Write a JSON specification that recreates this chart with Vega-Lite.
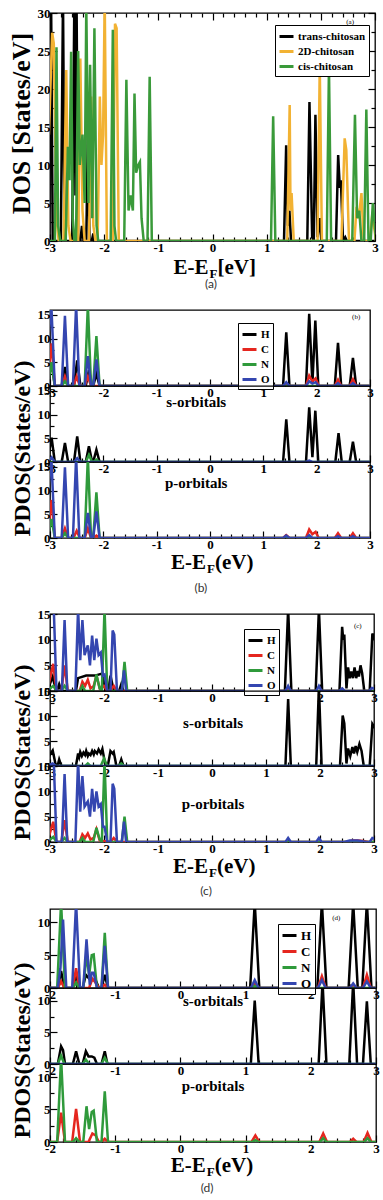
{
"$schema":"https://vega.github.io/schema/vega-lite/v6.json",
"padding":{"left":7,"top":6,"right":0,"bottom":0},
"background":"white",
"config":{
 "view":{"stroke":"#000","strokeWidth":1.3},
 "axis":{"labelFont":"Liberation Serif","labelFontWeight":"bold","labelFontSize":13,"labelColor":"#000","labelPadding":7,"labelFlush":false,"labelOverlap":false,"domain":false,"grid":false,"tickColor":"#000","tickWidth":1.2,"titleFont":"Liberation Serif","titleFontWeight":"bold","titleColor":"#000"},
 "legend":{"labelFont":"Liberation Serif","labelFontWeight":"bold","labelFontSize":11,"labelColor":"#000","symbolType":"stroke","symbolStrokeWidth":3,"symbolSize":196,"strokeColor":"#000","fillColor":"#fff","padding":3,"rowPadding":-2,"labelOffset":3,"cornerRadius":0},
 "text":{"font":"Liberation Serif","fontWeight":"bold","color":"#000"}
},
"datasets":{
"a":[
{"s":"trans-chitosan","x":-3.02,"y":0},{"s":"trans-chitosan","x":-2.98,"y":32},{"s":"trans-chitosan","x":-2.95,"y":0},{"s":"trans-chitosan","x":-2.8,"y":0},{"s":"trans-chitosan","x":-2.76,"y":32},{"s":"trans-chitosan","x":-2.73,"y":0},{"s":"trans-chitosan","x":-2.59,"y":0},{"s":"trans-chitosan","x":-2.55,"y":32},{"s":"trans-chitosan","x":-2.53,"y":6},{"s":"trans-chitosan","x":-2.51,"y":32},{"s":"trans-chitosan","x":-2.48,"y":0},{"s":"trans-chitosan","x":-2.44,"y":0},{"s":"trans-chitosan","x":-2.41,"y":2},{"s":"trans-chitosan","x":-2.38,"y":0},{"s":"trans-chitosan","x":-2.33,"y":0},{"s":"trans-chitosan","x":-2.3,"y":15},{"s":"trans-chitosan","x":-2.27,"y":0},{"s":"trans-chitosan","x":-2.23,"y":0},{"s":"trans-chitosan","x":-2.2,"y":1},{"s":"trans-chitosan","x":-2.17,"y":0},{"s":"trans-chitosan","x":1.32,"y":0},{"s":"trans-chitosan","x":1.36,"y":12.6},{"s":"trans-chitosan","x":1.39,"y":2},{"s":"trans-chitosan","x":1.42,"y":4},{"s":"trans-chitosan","x":1.45,"y":0},{"s":"trans-chitosan","x":1.75,"y":0},{"s":"trans-chitosan","x":1.79,"y":18.3},{"s":"trans-chitosan","x":1.84,"y":0.5},{"s":"trans-chitosan","x":1.87,"y":0},{"s":"trans-chitosan","x":1.9,"y":16.6},{"s":"trans-chitosan","x":1.94,"y":0.5},{"s":"trans-chitosan","x":1.98,"y":3},{"s":"trans-chitosan","x":2.01,"y":0},{"s":"trans-chitosan","x":2.28,"y":0},{"s":"trans-chitosan","x":2.32,"y":11.3},{"s":"trans-chitosan","x":2.35,"y":7},{"s":"trans-chitosan","x":2.37,"y":8},{"s":"trans-chitosan","x":2.41,"y":0},{"s":"trans-chitosan","x":2.45,"y":0.5},{"s":"trans-chitosan","x":2.48,"y":0},{"s":"trans-chitosan","x":3.02,"y":0},
{"s":"2D-chitosan","x":-3.02,"y":14},{"s":"2D-chitosan","x":-2.96,"y":27.4},{"s":"2D-chitosan","x":-2.93,"y":26},{"s":"2D-chitosan","x":-2.88,"y":3},{"s":"2D-chitosan","x":-2.84,"y":0},{"s":"2D-chitosan","x":-2.75,"y":0},{"s":"2D-chitosan","x":-2.7,"y":22.5},{"s":"2D-chitosan","x":-2.66,"y":2},{"s":"2D-chitosan","x":-2.62,"y":0},{"s":"2D-chitosan","x":-2.48,"y":0},{"s":"2D-chitosan","x":-2.44,"y":24},{"s":"2D-chitosan","x":-2.4,"y":4},{"s":"2D-chitosan","x":-2.36,"y":0},{"s":"2D-chitosan","x":-2.28,"y":0},{"s":"2D-chitosan","x":-2.24,"y":19},{"s":"2D-chitosan","x":-2.2,"y":2},{"s":"2D-chitosan","x":-2.16,"y":0},{"s":"2D-chitosan","x":-2.12,"y":0},{"s":"2D-chitosan","x":-2.08,"y":19},{"s":"2D-chitosan","x":-2.05,"y":10},{"s":"2D-chitosan","x":-2.02,"y":14},{"s":"2D-chitosan","x":-1.99,"y":32},{"s":"2D-chitosan","x":-1.95,"y":0},{"s":"2D-chitosan","x":-1.84,"y":0},{"s":"2D-chitosan","x":-1.8,"y":28.6},{"s":"2D-chitosan","x":-1.77,"y":28},{"s":"2D-chitosan","x":-1.73,"y":0},{"s":"2D-chitosan","x":1.38,"y":0},{"s":"2D-chitosan","x":1.425,"y":17.9},{"s":"2D-chitosan","x":1.44,"y":4},{"s":"2D-chitosan","x":1.46,"y":6.3},{"s":"2D-chitosan","x":1.5,"y":0},{"s":"2D-chitosan","x":1.94,"y":0},{"s":"2D-chitosan","x":1.98,"y":23.2},{"s":"2D-chitosan","x":2.02,"y":0},{"s":"2D-chitosan","x":2.38,"y":0},{"s":"2D-chitosan","x":2.44,"y":13.5},{"s":"2D-chitosan","x":2.47,"y":12},{"s":"2D-chitosan","x":2.52,"y":0},{"s":"2D-chitosan","x":2.62,"y":0},{"s":"2D-chitosan","x":2.66,"y":4.5},{"s":"2D-chitosan","x":2.7,"y":3},{"s":"2D-chitosan","x":2.75,"y":6.3},{"s":"2D-chitosan","x":2.79,"y":0},{"s":"2D-chitosan","x":2.9,"y":0},{"s":"2D-chitosan","x":2.95,"y":3.5},{"s":"2D-chitosan","x":3.02,"y":0},
{"s":"cis-chitosan","x":-3.02,"y":0},{"s":"cis-chitosan","x":-2.91,"y":0},{"s":"cis-chitosan","x":-2.88,"y":25.5},{"s":"cis-chitosan","x":-2.85,"y":2},{"s":"cis-chitosan","x":-2.81,"y":0},{"s":"cis-chitosan","x":-2.71,"y":0},{"s":"cis-chitosan","x":-2.67,"y":12.4},{"s":"cis-chitosan","x":-2.64,"y":8},{"s":"cis-chitosan","x":-2.61,"y":24.9},{"s":"cis-chitosan","x":-2.58,"y":3},{"s":"cis-chitosan","x":-2.55,"y":0},{"s":"cis-chitosan","x":-2.52,"y":0},{"s":"cis-chitosan","x":-2.48,"y":25},{"s":"cis-chitosan","x":-2.45,"y":10},{"s":"cis-chitosan","x":-2.4,"y":14},{"s":"cis-chitosan","x":-2.36,"y":5},{"s":"cis-chitosan","x":-2.33,"y":31},{"s":"cis-chitosan","x":-2.29,"y":5},{"s":"cis-chitosan","x":-2.26,"y":23.2},{"s":"cis-chitosan","x":-2.22,"y":3},{"s":"cis-chitosan","x":-2.18,"y":28},{"s":"cis-chitosan","x":-2.14,"y":2},{"s":"cis-chitosan","x":-2.11,"y":0},{"s":"cis-chitosan","x":-1.88,"y":0},{"s":"cis-chitosan","x":-1.84,"y":27.8},{"s":"cis-chitosan","x":-1.81,"y":2},{"s":"cis-chitosan","x":-1.78,"y":0},{"s":"cis-chitosan","x":-1.63,"y":0},{"s":"cis-chitosan","x":-1.59,"y":21.2},{"s":"cis-chitosan","x":-1.55,"y":4},{"s":"cis-chitosan","x":-1.51,"y":6},{"s":"cis-chitosan","x":-1.47,"y":4},{"s":"cis-chitosan","x":-1.44,"y":19.4},{"s":"cis-chitosan","x":-1.41,"y":9},{"s":"cis-chitosan","x":-1.37,"y":10},{"s":"cis-chitosan","x":-1.34,"y":10.4},{"s":"cis-chitosan","x":-1.31,"y":3},{"s":"cis-chitosan","x":-1.27,"y":0},{"s":"cis-chitosan","x":-1.2,"y":0},{"s":"cis-chitosan","x":-1.16,"y":21.6},{"s":"cis-chitosan","x":-1.12,"y":0},{"s":"cis-chitosan","x":1.08,"y":0},{"s":"cis-chitosan","x":1.12,"y":16.4},{"s":"cis-chitosan","x":1.16,"y":0},{"s":"cis-chitosan","x":2.11,"y":0},{"s":"cis-chitosan","x":2.15,"y":22.9},{"s":"cis-chitosan","x":2.19,"y":0},{"s":"cis-chitosan","x":2.58,"y":0},{"s":"cis-chitosan","x":2.63,"y":16.6},{"s":"cis-chitosan","x":2.67,"y":3},{"s":"cis-chitosan","x":2.71,"y":4},{"s":"cis-chitosan","x":2.75,"y":0},{"s":"cis-chitosan","x":2.8,"y":0},{"s":"cis-chitosan","x":2.84,"y":17.3},{"s":"cis-chitosan","x":2.88,"y":0},{"s":"cis-chitosan","x":2.92,"y":0},{"s":"cis-chitosan","x":2.96,"y":5},{"s":"cis-chitosan","x":3.02,"y":0}
],
"b1":[
{"s":"H","x":-3.05,"y":0},{"s":"H","x":-2.97,"y":5},{"s":"H","x":-2.91,"y":0},{"s":"H","x":-2.78,"y":0},{"s":"H","x":-2.72,"y":4},{"s":"H","x":-2.66,"y":0},{"s":"H","x":-2.55,"y":0},{"s":"H","x":-2.49,"y":5.4},{"s":"H","x":-2.43,"y":0},{"s":"H","x":-2.33,"y":0},{"s":"H","x":-2.27,"y":3.3},{"s":"H","x":-2.21,"y":0},{"s":"H","x":-2.19,"y":0},{"s":"H","x":-2.13,"y":2.6},{"s":"H","x":-2.07,"y":0},{"s":"H","x":1.37,"y":0},{"s":"H","x":1.43,"y":11.3},{"s":"H","x":1.49,"y":0},{"s":"H","x":1.8,"y":0},{"s":"H","x":1.86,"y":15.2},{"s":"H","x":1.92,"y":0.5},{"s":"H","x":1.975,"y":13.8},{"s":"H","x":2.03,"y":0},{"s":"H","x":2.34,"y":0},{"s":"H","x":2.4,"y":9.1},{"s":"H","x":2.46,"y":0},{"s":"H","x":2.62,"y":0},{"s":"H","x":2.68,"y":5.9},{"s":"H","x":2.74,"y":0},{"s":"H","x":3.05,"y":0},
{"s":"C","x":-3.05,"y":0},{"s":"C","x":-2.97,"y":9},{"s":"C","x":-2.91,"y":0},{"s":"C","x":-2.78,"y":0},{"s":"C","x":-2.72,"y":2},{"s":"C","x":-2.66,"y":0},{"s":"C","x":-2.56,"y":0},{"s":"C","x":-2.5,"y":2},{"s":"C","x":-2.44,"y":0},{"s":"C","x":-2.35,"y":0},{"s":"C","x":-2.29,"y":2},{"s":"C","x":-2.23,"y":0},{"s":"C","x":1.37,"y":0},{"s":"C","x":1.43,"y":0.5},{"s":"C","x":1.49,"y":0},{"s":"C","x":1.8,"y":0},{"s":"C","x":1.86,"y":2.2},{"s":"C","x":1.92,"y":1},{"s":"C","x":1.98,"y":1.6},{"s":"C","x":2.04,"y":0},{"s":"C","x":2.34,"y":0},{"s":"C","x":2.4,"y":1.3},{"s":"C","x":2.46,"y":0},{"s":"C","x":2.62,"y":0},{"s":"C","x":2.68,"y":1.4},{"s":"C","x":2.74,"y":0},{"s":"C","x":3.05,"y":0},
{"s":"N","x":-3.05,"y":0},{"s":"N","x":-2.97,"y":5},{"s":"N","x":-2.91,"y":0},{"s":"N","x":-2.78,"y":0},{"s":"N","x":-2.72,"y":1},{"s":"N","x":-2.66,"y":0},{"s":"N","x":-2.35,"y":0},{"s":"N","x":-2.29,"y":17},{"s":"N","x":-2.23,"y":0},{"s":"N","x":-2.19,"y":0},{"s":"N","x":-2.13,"y":10.5},{"s":"N","x":-2.07,"y":0},{"s":"N","x":3.05,"y":0},
{"s":"O","x":-3.05,"y":8},{"s":"O","x":-2.975,"y":17},{"s":"O","x":-2.91,"y":0},{"s":"O","x":-2.78,"y":0},{"s":"O","x":-2.72,"y":14.8},{"s":"O","x":-2.66,"y":0},{"s":"O","x":-2.57,"y":0},{"s":"O","x":-2.51,"y":17},{"s":"O","x":-2.45,"y":0},{"s":"O","x":-2.35,"y":0},{"s":"O","x":-2.29,"y":6.3},{"s":"O","x":-2.23,"y":0},{"s":"O","x":-2.19,"y":0},{"s":"O","x":-2.13,"y":5.6},{"s":"O","x":-2.07,"y":0},{"s":"O","x":1.37,"y":0},{"s":"O","x":1.43,"y":0.8},{"s":"O","x":1.49,"y":0},{"s":"O","x":1.8,"y":0},{"s":"O","x":1.86,"y":1},{"s":"O","x":1.92,"y":0.5},{"s":"O","x":1.98,"y":0.8},{"s":"O","x":2.04,"y":0},{"s":"O","x":2.34,"y":0},{"s":"O","x":2.4,"y":0.6},{"s":"O","x":2.46,"y":0},{"s":"O","x":2.62,"y":0},{"s":"O","x":2.68,"y":0.6},{"s":"O","x":2.74,"y":0},{"s":"O","x":3.05,"y":0}
],
"b2":[
{"s":"H","x":-3.05,"y":0},{"s":"H","x":-2.97,"y":5.1},{"s":"H","x":-2.91,"y":0},{"s":"H","x":-2.78,"y":0},{"s":"H","x":-2.72,"y":4},{"s":"H","x":-2.66,"y":0},{"s":"H","x":-2.55,"y":0},{"s":"H","x":-2.49,"y":5.4},{"s":"H","x":-2.43,"y":0},{"s":"H","x":-2.33,"y":0},{"s":"H","x":-2.27,"y":3.3},{"s":"H","x":-2.21,"y":0},{"s":"H","x":-2.19,"y":0},{"s":"H","x":-2.13,"y":2.6},{"s":"H","x":-2.07,"y":0},{"s":"H","x":1.37,"y":0},{"s":"H","x":1.43,"y":9},{"s":"H","x":1.49,"y":0},{"s":"H","x":1.8,"y":0},{"s":"H","x":1.86,"y":11.5},{"s":"H","x":1.92,"y":1},{"s":"H","x":1.975,"y":10.8},{"s":"H","x":2.03,"y":0},{"s":"H","x":2.35,"y":0},{"s":"H","x":2.41,"y":6.1},{"s":"H","x":2.47,"y":0},{"s":"H","x":2.62,"y":0},{"s":"H","x":2.68,"y":4.3},{"s":"H","x":2.74,"y":0},{"s":"H","x":3.05,"y":0},
{"s":"N","x":-3.05,"y":0},{"s":"N","x":-2.33,"y":0},{"s":"N","x":-2.27,"y":1.5},{"s":"N","x":-2.21,"y":0},{"s":"N","x":-2.19,"y":0},{"s":"N","x":-2.13,"y":0.5},{"s":"N","x":-2.07,"y":0},{"s":"N","x":3.05,"y":0},
{"s":"O","x":-3.05,"y":0},{"s":"O","x":-2.97,"y":1},{"s":"O","x":-2.91,"y":0},{"s":"O","x":-2.55,"y":0},{"s":"O","x":-2.49,"y":0.8},{"s":"O","x":-2.43,"y":0},{"s":"O","x":1.8,"y":0},{"s":"O","x":1.86,"y":0.3},{"s":"O","x":1.92,"y":0},{"s":"O","x":3.05,"y":0}
],
"b3":[
{"s":"C","x":-3.05,"y":0},{"s":"C","x":-2.97,"y":8},{"s":"C","x":-2.91,"y":0},{"s":"C","x":-2.78,"y":0},{"s":"C","x":-2.72,"y":2},{"s":"C","x":-2.66,"y":0},{"s":"C","x":-2.56,"y":0},{"s":"C","x":-2.5,"y":1.5},{"s":"C","x":-2.44,"y":0},{"s":"C","x":-2.35,"y":0},{"s":"C","x":-2.29,"y":2},{"s":"C","x":-2.23,"y":0},{"s":"C","x":-2.19,"y":0},{"s":"C","x":-2.13,"y":0.5},{"s":"C","x":-2.07,"y":0},{"s":"C","x":1.37,"y":0},{"s":"C","x":1.43,"y":0.6},{"s":"C","x":1.49,"y":0},{"s":"C","x":1.8,"y":0},{"s":"C","x":1.86,"y":1.8},{"s":"C","x":1.92,"y":0.8},{"s":"C","x":1.98,"y":1.3},{"s":"C","x":2.04,"y":0},{"s":"C","x":2.34,"y":0},{"s":"C","x":2.4,"y":1},{"s":"C","x":2.46,"y":0},{"s":"C","x":2.62,"y":0},{"s":"C","x":2.68,"y":1},{"s":"C","x":2.74,"y":0},{"s":"C","x":3.05,"y":0},
{"s":"N","x":-3.05,"y":0},{"s":"N","x":-2.97,"y":4},{"s":"N","x":-2.91,"y":0},{"s":"N","x":-2.78,"y":0},{"s":"N","x":-2.72,"y":1},{"s":"N","x":-2.66,"y":0},{"s":"N","x":-2.35,"y":0},{"s":"N","x":-2.29,"y":17},{"s":"N","x":-2.23,"y":0},{"s":"N","x":-2.19,"y":0},{"s":"N","x":-2.13,"y":9.6},{"s":"N","x":-2.07,"y":0},{"s":"N","x":3.05,"y":0},
{"s":"O","x":-3.05,"y":8},{"s":"O","x":-2.975,"y":17},{"s":"O","x":-2.91,"y":0},{"s":"O","x":-2.78,"y":0},{"s":"O","x":-2.72,"y":14.9},{"s":"O","x":-2.66,"y":0},{"s":"O","x":-2.57,"y":0},{"s":"O","x":-2.51,"y":17},{"s":"O","x":-2.45,"y":0},{"s":"O","x":-2.35,"y":0},{"s":"O","x":-2.29,"y":5.3},{"s":"O","x":-2.23,"y":0},{"s":"O","x":-2.19,"y":0},{"s":"O","x":-2.13,"y":5.6},{"s":"O","x":-2.07,"y":0},{"s":"O","x":1.37,"y":0},{"s":"O","x":1.43,"y":0.5},{"s":"O","x":1.49,"y":0},{"s":"O","x":1.8,"y":0},{"s":"O","x":1.86,"y":0.6},{"s":"O","x":1.92,"y":0},{"s":"O","x":2.34,"y":0},{"s":"O","x":2.4,"y":0.4},{"s":"O","x":2.46,"y":0},{"s":"O","x":2.62,"y":0},{"s":"O","x":2.68,"y":0.4},{"s":"O","x":2.74,"y":0},{"s":"O","x":3.05,"y":0}
],
"c1":[
{"s":"H","x":-3.05,"y":0},{"s":"H","x":-2.95,"y":2.8},{"s":"H","x":-2.89,"y":0},{"s":"H","x":-2.87,"y":0},{"s":"H","x":-2.83,"y":1.3},{"s":"H","x":-2.79,"y":0},{"s":"H","x":-2.52,"y":0},{"s":"H","x":-2.48,"y":2.5},{"s":"H","x":-2.33,"y":3},{"s":"H","x":-2.17,"y":3},{"s":"H","x":-2.03,"y":3.4},{"s":"H","x":-1.97,"y":0},{"s":"H","x":-1.92,"y":0},{"s":"H","x":-1.88,"y":3},{"s":"H","x":-1.82,"y":0},{"s":"H","x":-1.72,"y":0},{"s":"H","x":-1.68,"y":1.3},{"s":"H","x":-1.64,"y":0},{"s":"H","x":1.35,"y":0},{"s":"H","x":1.41,"y":16},{"s":"H","x":1.47,"y":0},{"s":"H","x":1.92,"y":0},{"s":"H","x":1.98,"y":16},{"s":"H","x":2.04,"y":0},{"s":"H","x":2.36,"y":0},{"s":"H","x":2.41,"y":12.5},{"s":"H","x":2.43,"y":10},{"s":"H","x":2.45,"y":11},{"s":"H","x":2.49,"y":0.5},{"s":"H","x":2.52,"y":4.6},{"s":"H","x":2.55,"y":2.5},{"s":"H","x":2.58,"y":3.8},{"s":"H","x":2.61,"y":2.5},{"s":"H","x":2.64,"y":4.6},{"s":"H","x":2.67,"y":2.5},{"s":"H","x":2.7,"y":3.9},{"s":"H","x":2.72,"y":2.8},{"s":"H","x":2.75,"y":5},{"s":"H","x":2.78,"y":3.5},{"s":"H","x":2.82,"y":0},{"s":"H","x":2.92,"y":0},{"s":"H","x":2.97,"y":11.2},{"s":"H","x":3.05,"y":9},
{"s":"C","x":-3.05,"y":0},{"s":"C","x":-2.94,"y":5.3},{"s":"C","x":-2.88,"y":0},{"s":"C","x":-2.79,"y":0},{"s":"C","x":-2.73,"y":5},{"s":"C","x":-2.67,"y":0},{"s":"C","x":-2.45,"y":0},{"s":"C","x":-2.4,"y":1.8},{"s":"C","x":-2.35,"y":1},{"s":"C","x":-2.3,"y":2.2},{"s":"C","x":-2.25,"y":0.5},{"s":"C","x":-2.19,"y":1},{"s":"C","x":-2.14,"y":3},{"s":"C","x":-2.08,"y":0.5},{"s":"C","x":-2,"y":1},{"s":"C","x":-1.94,"y":0},{"s":"C","x":-1.88,"y":0},{"s":"C","x":-1.82,"y":1},{"s":"C","x":-1.76,"y":0},{"s":"C","x":1.36,"y":0},{"s":"C","x":1.41,"y":0.3},{"s":"C","x":1.46,"y":0},{"s":"C","x":3.05,"y":0},
{"s":"N","x":-3.05,"y":0},{"s":"N","x":-2.94,"y":1},{"s":"N","x":-2.88,"y":0},{"s":"N","x":-2.79,"y":0},{"s":"N","x":-2.73,"y":1},{"s":"N","x":-2.67,"y":0},{"s":"N","x":-2.45,"y":0},{"s":"N","x":-2.4,"y":1},{"s":"N","x":-2.35,"y":0},{"s":"N","x":-2.2,"y":0},{"s":"N","x":-2.14,"y":3.2},{"s":"N","x":-2.08,"y":0.5},{"s":"N","x":-2.04,"y":0},{"s":"N","x":-1.99,"y":16},{"s":"N","x":-1.94,"y":0},{"s":"N","x":-1.67,"y":0},{"s":"N","x":-1.62,"y":5.7},{"s":"N","x":-1.57,"y":0},{"s":"N","x":3.05,"y":0},
{"s":"O","x":-3.05,"y":16},{"s":"O","x":-2.93,"y":16},{"s":"O","x":-2.88,"y":0},{"s":"O","x":-2.78,"y":0},{"s":"O","x":-2.73,"y":13.8},{"s":"O","x":-2.68,"y":0},{"s":"O","x":-2.53,"y":0},{"s":"O","x":-2.48,"y":16},{"s":"O","x":-2.44,"y":6},{"s":"O","x":-2.4,"y":13.8},{"s":"O","x":-2.36,"y":7},{"s":"O","x":-2.33,"y":8},{"s":"O","x":-2.3,"y":8.9},{"s":"O","x":-2.26,"y":5},{"s":"O","x":-2.22,"y":10.8},{"s":"O","x":-2.18,"y":6},{"s":"O","x":-2.14,"y":10.2},{"s":"O","x":-2.1,"y":7},{"s":"O","x":-2.06,"y":7.5},{"s":"O","x":-2.02,"y":3},{"s":"O","x":-1.99,"y":3.2},{"s":"O","x":-1.94,"y":0},{"s":"O","x":-1.88,"y":0},{"s":"O","x":-1.84,"y":11.8},{"s":"O","x":-1.81,"y":11},{"s":"O","x":-1.76,"y":0},{"s":"O","x":-1.67,"y":0},{"s":"O","x":-1.63,"y":4},{"s":"O","x":-1.59,"y":0},{"s":"O","x":1.36,"y":0},{"s":"O","x":1.41,"y":1},{"s":"O","x":1.46,"y":0},{"s":"O","x":1.93,"y":0},{"s":"O","x":1.98,"y":1},{"s":"O","x":2.03,"y":0},{"s":"O","x":2.36,"y":0},{"s":"O","x":2.41,"y":0.5},{"s":"O","x":2.46,"y":0},{"s":"O","x":2.91,"y":0},{"s":"O","x":2.96,"y":0.6},{"s":"O","x":3.05,"y":0.3}
],
"c2":[
{"s":"H","x":-3.05,"y":1.5},{"s":"H","x":-2.95,"y":3.1},{"s":"H","x":-2.9,"y":0.5},{"s":"H","x":-2.86,"y":0},{"s":"H","x":-2.83,"y":1.3},{"s":"H","x":-2.79,"y":0},{"s":"H","x":-2.52,"y":0},{"s":"H","x":-2.48,"y":2.5},{"s":"H","x":-2.46,"y":1.8},{"s":"H","x":-2.44,"y":2.8},{"s":"H","x":-2.41,"y":2},{"s":"H","x":-2.38,"y":2.7},{"s":"H","x":-2.35,"y":2.2},{"s":"H","x":-2.33,"y":3},{"s":"H","x":-2.3,"y":2},{"s":"H","x":-2.28,"y":2.5},{"s":"H","x":-2.25,"y":2.2},{"s":"H","x":-2.22,"y":3},{"s":"H","x":-2.19,"y":2.3},{"s":"H","x":-2.17,"y":3},{"s":"H","x":-2.13,"y":2.5},{"s":"H","x":-2.1,"y":3.3},{"s":"H","x":-2.06,"y":2.5},{"s":"H","x":-2.03,"y":3.4},{"s":"H","x":-1.98,"y":0.5},{"s":"H","x":-1.93,"y":0},{"s":"H","x":-1.88,"y":3},{"s":"H","x":-1.84,"y":2.5},{"s":"H","x":-1.82,"y":2.8},{"s":"H","x":-1.77,"y":0},{"s":"H","x":-1.72,"y":0},{"s":"H","x":-1.68,"y":1.3},{"s":"H","x":-1.64,"y":0},{"s":"H","x":1.36,"y":0},{"s":"H","x":1.41,"y":13.4},{"s":"H","x":1.46,"y":0},{"s":"H","x":1.93,"y":0},{"s":"H","x":1.98,"y":16},{"s":"H","x":2.03,"y":0},{"s":"H","x":2.37,"y":0},{"s":"H","x":2.42,"y":10.1},{"s":"H","x":2.45,"y":8.5},{"s":"H","x":2.49,"y":0.5},{"s":"H","x":2.52,"y":3.5},{"s":"H","x":2.56,"y":2},{"s":"H","x":2.6,"y":3.8},{"s":"H","x":2.63,"y":2.5},{"s":"H","x":2.66,"y":4},{"s":"H","x":2.69,"y":2.8},{"s":"H","x":2.73,"y":4.4},{"s":"H","x":2.77,"y":3},{"s":"H","x":2.81,"y":0},{"s":"H","x":2.92,"y":0},{"s":"H","x":2.97,"y":8.4},{"s":"H","x":3.05,"y":7},
{"s":"N","x":-3.05,"y":0},{"s":"N","x":-2.35,"y":0},{"s":"N","x":-2.3,"y":0.5},{"s":"N","x":-2.25,"y":0},{"s":"N","x":-2.06,"y":0},{"s":"N","x":-2,"y":1.5},{"s":"N","x":-1.94,"y":0},{"s":"N","x":-1.73,"y":0},{"s":"N","x":-1.68,"y":0.5},{"s":"N","x":-1.63,"y":0},{"s":"N","x":3.05,"y":0},
{"s":"O","x":-3.05,"y":0},{"s":"O","x":-2.95,"y":0.5},{"s":"O","x":-2.89,"y":0},{"s":"O","x":3.05,"y":0}
],
"c3":[
{"s":"C","x":-3.05,"y":0},{"s":"C","x":-2.94,"y":4},{"s":"C","x":-2.88,"y":0},{"s":"C","x":-2.79,"y":0},{"s":"C","x":-2.73,"y":4.3},{"s":"C","x":-2.67,"y":0},{"s":"C","x":-2.45,"y":0},{"s":"C","x":-2.4,"y":1.5},{"s":"C","x":-2.35,"y":0.8},{"s":"C","x":-2.3,"y":1.7},{"s":"C","x":-2.25,"y":0.5},{"s":"C","x":-2.19,"y":0.8},{"s":"C","x":-2.14,"y":2.5},{"s":"C","x":-2.08,"y":0.3},{"s":"C","x":-1.88,"y":0},{"s":"C","x":-1.82,"y":0.8},{"s":"C","x":-1.76,"y":0},{"s":"C","x":2.5,"y":0},{"s":"C","x":2.6,"y":0.3},{"s":"C","x":2.7,"y":0.3},{"s":"C","x":2.8,"y":0.2},{"s":"C","x":2.9,"y":0},{"s":"C","x":3.05,"y":0},
{"s":"N","x":-3.05,"y":0},{"s":"N","x":-2.94,"y":1},{"s":"N","x":-2.88,"y":0},{"s":"N","x":-2.79,"y":0},{"s":"N","x":-2.73,"y":0.8},{"s":"N","x":-2.67,"y":0},{"s":"N","x":-2.45,"y":0},{"s":"N","x":-2.4,"y":0.8},{"s":"N","x":-2.35,"y":0},{"s":"N","x":-2.2,"y":0},{"s":"N","x":-2.14,"y":2.8},{"s":"N","x":-2.08,"y":0.5},{"s":"N","x":-2.04,"y":0},{"s":"N","x":-1.99,"y":16},{"s":"N","x":-1.94,"y":0},{"s":"N","x":-1.67,"y":0},{"s":"N","x":-1.62,"y":5},{"s":"N","x":-1.57,"y":0},{"s":"N","x":3.05,"y":0},
{"s":"O","x":-3.05,"y":16},{"s":"O","x":-2.93,"y":16},{"s":"O","x":-2.88,"y":0},{"s":"O","x":-2.78,"y":0},{"s":"O","x":-2.73,"y":13.4},{"s":"O","x":-2.68,"y":0},{"s":"O","x":-2.53,"y":0},{"s":"O","x":-2.48,"y":16},{"s":"O","x":-2.44,"y":6},{"s":"O","x":-2.4,"y":13},{"s":"O","x":-2.36,"y":7},{"s":"O","x":-2.33,"y":7.5},{"s":"O","x":-2.3,"y":8},{"s":"O","x":-2.26,"y":5},{"s":"O","x":-2.22,"y":10.5},{"s":"O","x":-2.18,"y":6},{"s":"O","x":-2.14,"y":10},{"s":"O","x":-2.1,"y":7},{"s":"O","x":-2.06,"y":7.5},{"s":"O","x":-2.02,"y":3},{"s":"O","x":-1.99,"y":3},{"s":"O","x":-1.94,"y":0},{"s":"O","x":-1.88,"y":0},{"s":"O","x":-1.84,"y":11.5},{"s":"O","x":-1.81,"y":10.5},{"s":"O","x":-1.76,"y":0},{"s":"O","x":-1.67,"y":0},{"s":"O","x":-1.63,"y":4},{"s":"O","x":-1.59,"y":0},{"s":"O","x":1.36,"y":0},{"s":"O","x":1.41,"y":0.8},{"s":"O","x":1.46,"y":0},{"s":"O","x":1.93,"y":0},{"s":"O","x":1.98,"y":0.8},{"s":"O","x":2.03,"y":0},{"s":"O","x":2.45,"y":0},{"s":"O","x":2.55,"y":0.3},{"s":"O","x":2.7,"y":0.3},{"s":"O","x":2.85,"y":0},{"s":"O","x":2.92,"y":0},{"s":"O","x":2.97,"y":0.8},{"s":"O","x":3.05,"y":0.5}
],
"d1":[
{"s":"H","x":-2.05,"y":0},{"s":"H","x":-1.88,"y":0},{"s":"H","x":-1.83,"y":2.6},{"s":"H","x":-1.78,"y":0},{"s":"H","x":-1.65,"y":0},{"s":"H","x":-1.6,"y":2},{"s":"H","x":-1.55,"y":0},{"s":"H","x":-1.5,"y":0},{"s":"H","x":-1.45,"y":2},{"s":"H","x":-1.38,"y":1.2},{"s":"H","x":-1.3,"y":1.2},{"s":"H","x":-1.25,"y":0},{"s":"H","x":-1.21,"y":0},{"s":"H","x":-1.16,"y":2},{"s":"H","x":-1.11,"y":0},{"s":"H","x":1.07,"y":0},{"s":"H","x":1.14,"y":13},{"s":"H","x":1.21,"y":0},{"s":"H","x":2.1,"y":0},{"s":"H","x":2.17,"y":13},{"s":"H","x":2.24,"y":0},{"s":"H","x":2.58,"y":0},{"s":"H","x":2.65,"y":13},{"s":"H","x":2.72,"y":0},{"s":"H","x":2.79,"y":0},{"s":"H","x":2.86,"y":13},{"s":"H","x":2.93,"y":0},{"s":"H","x":3.05,"y":0},
{"s":"C","x":-2.05,"y":0},{"s":"C","x":-1.88,"y":0},{"s":"C","x":-1.83,"y":1},{"s":"C","x":-1.78,"y":0},{"s":"C","x":-1.65,"y":0},{"s":"C","x":-1.6,"y":3},{"s":"C","x":-1.55,"y":0},{"s":"C","x":-1.4,"y":0},{"s":"C","x":-1.35,"y":1.4},{"s":"C","x":-1.3,"y":0.8},{"s":"C","x":-1.25,"y":0},{"s":"C","x":-1.21,"y":0},{"s":"C","x":-1.16,"y":0.5},{"s":"C","x":-1.11,"y":0},{"s":"C","x":1.08,"y":0},{"s":"C","x":1.14,"y":0.8},{"s":"C","x":1.2,"y":0},{"s":"C","x":2.11,"y":0},{"s":"C","x":2.17,"y":1.8},{"s":"C","x":2.23,"y":0},{"s":"C","x":2.6,"y":0},{"s":"C","x":2.65,"y":0.5},{"s":"C","x":2.7,"y":0},{"s":"C","x":2.8,"y":0},{"s":"C","x":2.86,"y":2},{"s":"C","x":2.92,"y":0},{"s":"C","x":3.05,"y":0},
{"s":"N","x":-2.05,"y":0},{"s":"N","x":-1.89,"y":0},{"s":"N","x":-1.83,"y":13},{"s":"N","x":-1.77,"y":0},{"s":"N","x":-1.65,"y":0},{"s":"N","x":-1.6,"y":0.8},{"s":"N","x":-1.55,"y":0},{"s":"N","x":-1.49,"y":0},{"s":"N","x":-1.44,"y":5},{"s":"N","x":-1.4,"y":2},{"s":"N","x":-1.36,"y":5},{"s":"N","x":-1.33,"y":5.1},{"s":"N","x":-1.28,"y":0},{"s":"N","x":-1.21,"y":0},{"s":"N","x":-1.16,"y":8.4},{"s":"N","x":-1.11,"y":0},{"s":"N","x":1.09,"y":0},{"s":"N","x":1.14,"y":0.3},{"s":"N","x":1.19,"y":0},{"s":"N","x":3.05,"y":0},
{"s":"O","x":-2.05,"y":0},{"s":"O","x":-1.88,"y":0},{"s":"O","x":-1.84,"y":3},{"s":"O","x":-1.8,"y":10.4},{"s":"O","x":-1.75,"y":0},{"s":"O","x":-1.66,"y":0},{"s":"O","x":-1.6,"y":13},{"s":"O","x":-1.54,"y":0},{"s":"O","x":-1.49,"y":0},{"s":"O","x":-1.44,"y":7.4},{"s":"O","x":-1.39,"y":0.5},{"s":"O","x":-1.36,"y":2.3},{"s":"O","x":-1.33,"y":2.3},{"s":"O","x":-1.28,"y":0},{"s":"O","x":-1.21,"y":0},{"s":"O","x":-1.16,"y":6.4},{"s":"O","x":-1.11,"y":0},{"s":"O","x":1.08,"y":0},{"s":"O","x":1.14,"y":1.2},{"s":"O","x":1.2,"y":0},{"s":"O","x":2.11,"y":0},{"s":"O","x":2.17,"y":1.2},{"s":"O","x":2.23,"y":0},{"s":"O","x":2.6,"y":0},{"s":"O","x":2.65,"y":0.7},{"s":"O","x":2.7,"y":0},{"s":"O","x":2.8,"y":0},{"s":"O","x":2.86,"y":1},{"s":"O","x":2.92,"y":0},{"s":"O","x":3.05,"y":0}
],
"d2":[
{"s":"H","x":-2.05,"y":0},{"s":"H","x":-1.88,"y":0},{"s":"H","x":-1.83,"y":2.8},{"s":"H","x":-1.8,"y":2.2},{"s":"H","x":-1.77,"y":0},{"s":"H","x":-1.65,"y":0},{"s":"H","x":-1.6,"y":2},{"s":"H","x":-1.55,"y":0},{"s":"H","x":-1.5,"y":0},{"s":"H","x":-1.45,"y":2},{"s":"H","x":-1.41,"y":1.2},{"s":"H","x":-1.36,"y":1.2},{"s":"H","x":-1.32,"y":1},{"s":"H","x":-1.28,"y":0},{"s":"H","x":-1.21,"y":0},{"s":"H","x":-1.16,"y":2},{"s":"H","x":-1.12,"y":0},{"s":"H","x":1.08,"y":0},{"s":"H","x":1.14,"y":10},{"s":"H","x":1.2,"y":0},{"s":"H","x":2.12,"y":0},{"s":"H","x":2.18,"y":13},{"s":"H","x":2.24,"y":0},{"s":"H","x":2.59,"y":0},{"s":"H","x":2.65,"y":13},{"s":"H","x":2.71,"y":0},{"s":"H","x":2.8,"y":0},{"s":"H","x":2.86,"y":9.9},{"s":"H","x":2.92,"y":0},{"s":"H","x":3.05,"y":0},
{"s":"N","x":-2.05,"y":0},{"s":"N","x":-1.88,"y":0},{"s":"N","x":-1.83,"y":1.3},{"s":"N","x":-1.78,"y":0},{"s":"N","x":-1.5,"y":0},{"s":"N","x":-1.45,"y":0.7},{"s":"N","x":-1.4,"y":0},{"s":"N","x":-1.21,"y":0},{"s":"N","x":-1.16,"y":1},{"s":"N","x":-1.11,"y":0},{"s":"N","x":3.05,"y":0},
{"s":"O","x":-2.05,"y":0},{"s":"O","x":3.05,"y":0}
],
"d3":[
{"s":"C","x":-2.05,"y":0},{"s":"C","x":-1.89,"y":0},{"s":"C","x":-1.83,"y":4.5},{"s":"C","x":-1.77,"y":0},{"s":"C","x":-1.66,"y":0},{"s":"C","x":-1.6,"y":5.1},{"s":"C","x":-1.54,"y":0},{"s":"C","x":-1.41,"y":0},{"s":"C","x":-1.35,"y":1.3},{"s":"C","x":-1.3,"y":1},{"s":"C","x":-1.25,"y":0},{"s":"C","x":-1.21,"y":0},{"s":"C","x":-1.16,"y":0.5},{"s":"C","x":-1.11,"y":0},{"s":"C","x":1.09,"y":0},{"s":"C","x":1.15,"y":1},{"s":"C","x":1.21,"y":0},{"s":"C","x":2.13,"y":0},{"s":"C","x":2.19,"y":1.3},{"s":"C","x":2.25,"y":0},{"s":"C","x":2.6,"y":0},{"s":"C","x":2.65,"y":0.5},{"s":"C","x":2.7,"y":0},{"s":"C","x":2.81,"y":0},{"s":"C","x":2.87,"y":1.4},{"s":"C","x":2.93,"y":0},{"s":"C","x":3.05,"y":0},
{"s":"N","x":-2.05,"y":0},{"s":"N","x":-1.89,"y":0},{"s":"N","x":-1.83,"y":13},{"s":"N","x":-1.77,"y":0},{"s":"N","x":-1.65,"y":0},{"s":"N","x":-1.6,"y":0.6},{"s":"N","x":-1.55,"y":0},{"s":"N","x":-1.49,"y":0},{"s":"N","x":-1.44,"y":5.5},{"s":"N","x":-1.4,"y":2},{"s":"N","x":-1.36,"y":4.6},{"s":"N","x":-1.33,"y":4.8},{"s":"N","x":-1.28,"y":0},{"s":"N","x":-1.21,"y":0},{"s":"N","x":-1.16,"y":7.8},{"s":"N","x":-1.11,"y":0},{"s":"N","x":1.1,"y":0},{"s":"N","x":1.15,"y":0.3},{"s":"N","x":1.2,"y":0},{"s":"N","x":2.14,"y":0},{"s":"N","x":2.19,"y":0.6},{"s":"N","x":2.24,"y":0},{"s":"N","x":2.82,"y":0},{"s":"N","x":2.87,"y":0.6},{"s":"N","x":2.92,"y":0},{"s":"N","x":3.05,"y":0}
]
},
"spacing":17,
"bounds":"full",
"resolve":{"scale":{"color":"independent"}},
"vconcat":[
{
 "width":325,"height":228,
 "resolve":{"axis":{"x":"independent","y":"independent"}},
 "layer":[
  {"data":{"name":"a"},"mark":{"type":"line","strokeWidth":2.5,"clip":true},
   "encoding":{
    "x":{"field":"x","type":"quantitative","scale":{"domain":[-3,3],"nice":false,"zero":false},"axis":{"orient":"bottom","values":[-3,-2.8,-2.6,-2.4,-2.2,-2,-1.8,-1.6,-1.4,-1.2,-1,-0.8,-0.6,-0.4,-0.2,0,0.2,0.4,0.6,0.8,1,1.2,1.4,1.6,1.8,2,2.2,2.4,2.6,2.8,3],"labelExpr":"abs(datum.value-round(datum.value))<0.01 ? toString(round(datum.value)) : ''","tickSize":{"condition":{"test":"abs(datum.value-round(datum.value))<0.01","value":-7},"value":-4},"title":null}},
    "y":{"field":"y","type":"quantitative","scale":{"domain":[0,30],"nice":false},"axis":{"orient":"left","values":[0,2.5,5,7.5,10,12.5,15,17.5,20,22.5,25,27.5,30],"labelExpr":"datum.value % 5 === 0 ? toString(datum.value) : ''","tickSize":{"condition":{"test":"datum.value % 5 === 0","value":-7},"value":-4},"title":"DOS [States/eV]","titleFontSize":26,"titleX":-16,"titleY":110,"titleAngle":-90,"titleBaseline":"bottom","titleAlign":"center"}},
    "color":{"field":"s","type":"nominal","scale":{"domain":["trans-chitosan","2D-chitosan","cis-chitosan"],"range":["#000000","#f2b233","#3a9a3a"]},"legend":{"title":null,"orient":"none","legendX":225,"legendY":12}}
   }},
  {"data":{"values":[{}]},"mark":{"type":"point","opacity":0},
   "encoding":{
    "x":{"datum":0,"type":"quantitative","axis":{"orient":"top","values":[-3,-2.8,-2.6,-2.4,-2.2,-2,-1.8,-1.6,-1.4,-1.2,-1,-0.8,-0.6,-0.4,-0.2,0,0.2,0.4,0.6,0.8,1,1.2,1.4,1.6,1.8,2,2.2,2.4,2.6,2.8,3],"labels":false,"tickSize":{"condition":{"test":"abs(datum.value-round(datum.value))<0.01","value":-7},"value":-4},"title":null}},
    "y":{"datum":0,"type":"quantitative","axis":{"orient":"right","values":[0,2.5,5,7.5,10,12.5,15,17.5,20,22.5,25,27.5,30],"labels":false,"tickSize":{"condition":{"test":"datum.value % 5 === 0","value":-7},"value":-4},"title":null}}
   }},
  {"data":{"values":[{}]},"mark":{"type":"text","text":"(a)","fontSize":7,"fontWeight":"normal"},"encoding":{"x":{"datum":2.54,"type":"quantitative","axis":null},"y":{"datum":28.8,"type":"quantitative","axis":null}}},
  {"data":{"values":[{}]},"mark":{"type":"text","text":"E-E","fontSize":21,"align":"right","baseline":"middle","dx":-4},"encoding":{"x":{"datum":0,"type":"quantitative","axis":null},"y":{"datum":-3.55,"type":"quantitative","axis":null}}},
  {"data":{"values":[{}]},"mark":{"type":"text","text":"F","fontSize":13,"align":"left","baseline":"middle","dx":-3,"dy":6},"encoding":{"x":{"datum":0,"type":"quantitative","axis":null},"y":{"datum":-3.55,"type":"quantitative","axis":null}}},
  {"data":{"values":[{}]},"mark":{"type":"text","text":"[eV]","fontSize":21,"align":"left","baseline":"middle","dx":5},"encoding":{"x":{"datum":0,"type":"quantitative","axis":null},"y":{"datum":-3.55,"type":"quantitative","axis":null}}},
  {"data":{"values":[{}]},"mark":{"type":"text","text":"(a)","font":"Lato","fontWeight":"normal","fontSize":12,"color":"#333"},"encoding":{"x":{"datum":-0.03,"type":"quantitative","axis":null},"y":{"datum":-5.66,"type":"quantitative","axis":null}}}
 ]
},
{
"spacing":12,
"bounds":"full",
"resolve":{"scale":{"color":"independent"}},
"vconcat":[
{
 "spacing":0,"bounds":"flush","resolve":{"scale":{"color":"independent"}},
 "vconcat":[
  {"width":320,"height":76,
   "resolve":{"axis":{"x":"independent","y":"independent"}},
   "layer":[
    {"data":{"name":"b1"},"mark":{"type":"line","strokeWidth":2.5,"clip":true},
     "encoding":{
      "x":{"field":"x","type":"quantitative","scale":{"domain":[-3,3],"nice":false,"zero":false},"axis":{"orient":"bottom","values":[-3,-2.8,-2.6,-2.4,-2.2,-2,-1.8,-1.6,-1.4,-1.2,-1,-0.8,-0.6,-0.4,-0.2,0,0.2,0.4,0.6,0.8,1,1.2,1.4,1.6,1.8,2,2.2,2.4,2.6,2.8,3],"labelExpr":"abs(datum.value-round(datum.value))<0.01 ? toString(round(datum.value)) : ''","tickSize":{"condition":{"test":"abs(datum.value-round(datum.value))<0.01","value":-7},"value":-4},"title":null}},
      "y":{"field":"y","type":"quantitative","scale":{"domain":[0,16],"nice":false},"axis":{"orient":"left","values":[0,2.5,5,7.5,10,12.5,15],"labelExpr":"datum.value % 5 === 0 ? toString(datum.value) : ''","tickSize":{"condition":{"test":"datum.value % 5 === 0","value":-7},"value":-4},"title":null}},
      "color":{"field":"s","type":"nominal","scale":{"domain":["H","C","N","O"],"range":["#000000","#e5261f","#2f9a3b","#3446b0"]},"legend":{"title":null,"orient":"none","legendX":188,"legendY":13}}
     }},
    {"data":{"values":[{}]},"mark":{"type":"text","text":"(b)","fontSize":7,"fontWeight":"normal"},"encoding":{"x":{"datum":2.74,"type":"quantitative","axis":null},"y":{"datum":14.5,"type":"quantitative","axis":null}}}
   ]},
  {"width":320,"height":76,
   "resolve":{"axis":{"x":"independent","y":"independent"}},
   "layer":[
    {"data":{"name":"b2"},"mark":{"type":"line","strokeWidth":2.5,"clip":true},
     "encoding":{
      "x":{"field":"x","type":"quantitative","scale":{"domain":[-3,3],"nice":false,"zero":false},"axis":{"orient":"bottom","values":[-3,-2.8,-2.6,-2.4,-2.2,-2,-1.8,-1.6,-1.4,-1.2,-1,-0.8,-0.6,-0.4,-0.2,0,0.2,0.4,0.6,0.8,1,1.2,1.4,1.6,1.8,2,2.2,2.4,2.6,2.8,3],"labelExpr":"abs(datum.value-round(datum.value))<0.01 ? toString(round(datum.value)) : ''","tickSize":{"condition":{"test":"abs(datum.value-round(datum.value))<0.01","value":-7},"value":-4},"title":null}},
      "y":{"field":"y","type":"quantitative","scale":{"domain":[0,16],"nice":false},"axis":{"orient":"left","values":[0,2.5,5,7.5,10,12.5,15],"labelExpr":"datum.value % 5 === 0 ? toString(datum.value) : ''","tickSize":{"condition":{"test":"datum.value % 5 === 0","value":-7},"value":-4},"title":"PDOS(States/eV)","titleFontSize":24,"titleX":-16,"titleY":62,"titleAngle":-90,"titleBaseline":"bottom","titleAlign":"center"}},
      "color":{"field":"s","type":"nominal","scale":{"domain":["H","C","N","O"],"range":["#000000","#e5261f","#2f9a3b","#3446b0"]},"legend":null}
     }},
    {"data":{"values":[{}]},"mark":{"type":"text","text":"s-orbitals","fontSize":15},"encoding":{"x":{"datum":-0.26,"type":"quantitative","axis":null},"y":{"datum":12.7,"type":"quantitative","axis":null}}}
   ]},
  {"width":320,"height":76,
   "resolve":{"axis":{"x":"independent","y":"independent"}},
   "layer":[
    {"data":{"name":"b3"},"mark":{"type":"line","strokeWidth":2.5,"clip":true},
     "encoding":{
      "x":{"field":"x","type":"quantitative","scale":{"domain":[-3,3],"nice":false,"zero":false},"axis":{"orient":"bottom","values":[-3,-2.8,-2.6,-2.4,-2.2,-2,-1.8,-1.6,-1.4,-1.2,-1,-0.8,-0.6,-0.4,-0.2,0,0.2,0.4,0.6,0.8,1,1.2,1.4,1.6,1.8,2,2.2,2.4,2.6,2.8,3],"labelExpr":"abs(datum.value-round(datum.value))<0.01 ? toString(round(datum.value)) : ''","tickSize":{"condition":{"test":"abs(datum.value-round(datum.value))<0.01","value":-7},"value":-4},"title":null}},
      "y":{"field":"y","type":"quantitative","scale":{"domain":[0,16],"nice":false},"axis":{"orient":"left","values":[0,2.5,5,7.5,10,12.5,15],"labelExpr":"datum.value % 5 === 0 ? toString(datum.value) : ''","tickSize":{"condition":{"test":"datum.value % 5 === 0","value":-7},"value":-4},"title":null}},
      "color":{"field":"s","type":"nominal","scale":{"domain":["H","C","N","O"],"range":["#000000","#e5261f","#2f9a3b","#3446b0"]},"legend":null}
     }},
    {"data":{"values":[{}]},"mark":{"type":"text","text":"p-orbitals","fontSize":15},"encoding":{"x":{"datum":-0.26,"type":"quantitative","axis":null},"y":{"datum":11.5,"type":"quantitative","axis":null}}},
    {"data":{"values":[{}]},"mark":{"type":"text","text":"E-E","fontSize":21,"align":"right","baseline":"middle","dx":-4},"encoding":{"x":{"datum":0,"type":"quantitative","axis":null},"y":{"datum":-5.26,"type":"quantitative","axis":null}}},
    {"data":{"values":[{}]},"mark":{"type":"text","text":"F","fontSize":13,"align":"left","baseline":"middle","dx":-3,"dy":6},"encoding":{"x":{"datum":0,"type":"quantitative","axis":null},"y":{"datum":-5.26,"type":"quantitative","axis":null}}},
    {"data":{"values":[{}]},"mark":{"type":"text","text":"(eV)","fontSize":21,"align":"left","baseline":"middle","dx":5},"encoding":{"x":{"datum":0,"type":"quantitative","axis":null},"y":{"datum":-5.26,"type":"quantitative","axis":null}}},
    {"data":{"values":[{}]},"mark":{"type":"text","text":"(b)","font":"Lato","fontWeight":"normal","fontSize":12,"color":"#333"},"encoding":{"x":{"datum":-0.17,"type":"quantitative","axis":null},"y":{"datum":-10.5,"type":"quantitative","axis":null}}}
   ]}
 ]
},
{
"spacing":10,
"bounds":"full",
"resolve":{"scale":{"color":"independent"}},
"vconcat":[
{
 "spacing":0,"bounds":"flush","resolve":{"scale":{"color":"independent"}},
 "vconcat":[
  {"width":324,"height":77,
   "resolve":{"axis":{"x":"independent","y":"independent"}},
   "layer":[
    {"data":{"name":"c1"},"mark":{"type":"line","strokeWidth":2.5,"clip":true},
     "encoding":{
      "x":{"field":"x","type":"quantitative","scale":{"domain":[-3,3],"nice":false,"zero":false},"axis":{"orient":"bottom","values":[-3,-2.8,-2.6,-2.4,-2.2,-2,-1.8,-1.6,-1.4,-1.2,-1,-0.8,-0.6,-0.4,-0.2,0,0.2,0.4,0.6,0.8,1,1.2,1.4,1.6,1.8,2,2.2,2.4,2.6,2.8,3],"labelExpr":"abs(datum.value-round(datum.value))<0.01 ? toString(round(datum.value)) : ''","tickSize":{"condition":{"test":"abs(datum.value-round(datum.value))<0.01","value":-7},"value":-4},"title":null}},
      "y":{"field":"y","type":"quantitative","scale":{"domain":[0,15],"nice":false},"axis":{"orient":"left","values":[0,2.5,5,7.5,10,12.5,15],"labelExpr":"datum.value % 5 === 0 ? toString(datum.value) : ''","tickSize":{"condition":{"test":"datum.value % 5 === 0","value":-7},"value":-4},"title":null}},
      "color":{"field":"s","type":"nominal","scale":{"domain":["H","C","N","O"],"range":["#000000","#e5261f","#2f9a3b","#3446b0"]},"legend":{"title":null,"orient":"none","legendX":194,"legendY":15}}
     }},
    {"data":{"values":[{}]},"mark":{"type":"text","text":"(c)","fontSize":7,"fontWeight":"normal"},"encoding":{"x":{"datum":2.7,"type":"quantitative","axis":null},"y":{"datum":12.7,"type":"quantitative","axis":null}}}
   ]},
  {"width":324,"height":75,
   "resolve":{"axis":{"x":"independent","y":"independent"}},
   "layer":[
    {"data":{"name":"c2"},"mark":{"type":"line","strokeWidth":2.5,"clip":true},
     "encoding":{
      "x":{"field":"x","type":"quantitative","scale":{"domain":[-3,3],"nice":false,"zero":false},"axis":{"orient":"bottom","values":[-3,-2.8,-2.6,-2.4,-2.2,-2,-1.8,-1.6,-1.4,-1.2,-1,-0.8,-0.6,-0.4,-0.2,0,0.2,0.4,0.6,0.8,1,1.2,1.4,1.6,1.8,2,2.2,2.4,2.6,2.8,3],"labelExpr":"abs(datum.value-round(datum.value))<0.01 ? toString(round(datum.value)) : ''","tickSize":{"condition":{"test":"abs(datum.value-round(datum.value))<0.01","value":-7},"value":-4},"title":null}},
      "y":{"field":"y","type":"quantitative","scale":{"domain":[0,15],"nice":false},"axis":{"orient":"left","values":[0,2.5,5,7.5,10,12.5,15],"labelExpr":"datum.value % 5 === 0 ? toString(datum.value) : ''","tickSize":{"condition":{"test":"datum.value % 5 === 0","value":-7},"value":-4},"title":"PDOS(States/eV)","titleFontSize":24,"titleX":-16,"titleY":61,"titleAngle":-90,"titleBaseline":"bottom","titleAlign":"center"}},
      "color":{"field":"s","type":"nominal","scale":{"domain":["H","C","N","O"],"range":["#000000","#e5261f","#2f9a3b","#3446b0"]},"legend":null}
     }},
    {"data":{"values":[{}]},"mark":{"type":"text","text":"s-orbitals","fontSize":15},"encoding":{"x":{"datum":0.02,"type":"quantitative","axis":null},"y":{"datum":8.7,"type":"quantitative","axis":null}}}
   ]},
  {"width":324,"height":76,
   "resolve":{"axis":{"x":"independent","y":"independent"}},
   "layer":[
    {"data":{"name":"c3"},"mark":{"type":"line","strokeWidth":2.5,"clip":true},
     "encoding":{
      "x":{"field":"x","type":"quantitative","scale":{"domain":[-3,3],"nice":false,"zero":false},"axis":{"orient":"bottom","values":[-3,-2.8,-2.6,-2.4,-2.2,-2,-1.8,-1.6,-1.4,-1.2,-1,-0.8,-0.6,-0.4,-0.2,0,0.2,0.4,0.6,0.8,1,1.2,1.4,1.6,1.8,2,2.2,2.4,2.6,2.8,3],"labelExpr":"abs(datum.value-round(datum.value))<0.01 ? toString(round(datum.value)) : ''","tickSize":{"condition":{"test":"abs(datum.value-round(datum.value))<0.01","value":-7},"value":-4},"title":null}},
      "y":{"field":"y","type":"quantitative","scale":{"domain":[0,15],"nice":false},"axis":{"orient":"left","values":[0,2.5,5,7.5,10,12.5,15],"labelExpr":"datum.value % 5 === 0 ? toString(datum.value) : ''","tickSize":{"condition":{"test":"datum.value % 5 === 0","value":-7},"value":-4},"title":null}},
      "color":{"field":"s","type":"nominal","scale":{"domain":["H","C","N","O"],"range":["#000000","#e5261f","#2f9a3b","#3446b0"]},"legend":null}
     }},
    {"data":{"values":[{}]},"mark":{"type":"text","text":"p-orbitals","fontSize":15},"encoding":{"x":{"datum":0.02,"type":"quantitative","axis":null},"y":{"datum":7.5,"type":"quantitative","axis":null}}},
    {"data":{"values":[{}]},"mark":{"type":"text","text":"E-E","fontSize":21,"align":"right","baseline":"middle","dx":-4},"encoding":{"x":{"datum":0,"type":"quantitative","axis":null},"y":{"datum":-4.93,"type":"quantitative","axis":null}}},
    {"data":{"values":[{}]},"mark":{"type":"text","text":"F","fontSize":13,"align":"left","baseline":"middle","dx":-3,"dy":6},"encoding":{"x":{"datum":0,"type":"quantitative","axis":null},"y":{"datum":-4.93,"type":"quantitative","axis":null}}},
    {"data":{"values":[{}]},"mark":{"type":"text","text":"(eV)","fontSize":21,"align":"left","baseline":"middle","dx":5},"encoding":{"x":{"datum":0,"type":"quantitative","axis":null},"y":{"datum":-4.93,"type":"quantitative","axis":null}}},
    {"data":{"values":[{}]},"mark":{"type":"text","text":"(c)","font":"Lato","fontWeight":"normal","fontSize":12,"color":"#333"},"encoding":{"x":{"datum":-0.11,"type":"quantitative","axis":null},"y":{"datum":-9.7,"type":"quantitative","axis":null}}}
   ]}
 ]
},
{
 "spacing":0,"bounds":"flush","resolve":{"scale":{"color":"independent"}},
 "vconcat":[
  {"width":326,"height":79,
   "resolve":{"axis":{"x":"independent","y":"independent"}},
   "layer":[
    {"data":{"name":"d1"},"mark":{"type":"line","strokeWidth":2.5,"clip":true},
     "encoding":{
      "x":{"field":"x","type":"quantitative","scale":{"domain":[-2,3],"nice":false,"zero":false},"axis":{"orient":"bottom","values":[-2,-1.8,-1.6,-1.4,-1.2,-1,-0.8,-0.6,-0.4,-0.2,0,0.2,0.4,0.6,0.8,1,1.2,1.4,1.6,1.8,2,2.2,2.4,2.6,2.8,3],"labelExpr":"abs(datum.value-round(datum.value))<0.01 ? toString(round(datum.value)) : ''","tickSize":{"condition":{"test":"abs(datum.value-round(datum.value))<0.01","value":-7},"value":-4},"title":null}},
      "y":{"field":"y","type":"quantitative","scale":{"domain":[0,12],"nice":false},"axis":{"orient":"left","values":[0,2.5,5,7.5,10],"labelExpr":"datum.value % 5 === 0 ? toString(datum.value) : ''","tickSize":{"condition":{"test":"datum.value % 5 === 0","value":-7},"value":-4},"title":null}},
      "color":{"field":"s","type":"nominal","scale":{"domain":["H","C","N","O"],"range":["#000000","#e5261f","#2f9a3b","#3446b0"]},"legend":{"title":null,"orient":"none","legendX":228,"legendY":15,"labelFontSize":13}}
     }},
    {"data":{"values":[{}]},"mark":{"type":"text","text":"(d)","fontSize":7,"fontWeight":"normal"},"encoding":{"x":{"datum":2.39,"type":"quantitative","axis":null},"y":{"datum":10.7,"type":"quantitative","axis":null}}}
   ]},
  {"width":326,"height":76,
   "resolve":{"axis":{"x":"independent","y":"independent"}},
   "layer":[
    {"data":{"name":"d2"},"mark":{"type":"line","strokeWidth":2.5,"clip":true},
     "encoding":{
      "x":{"field":"x","type":"quantitative","scale":{"domain":[-2,3],"nice":false,"zero":false},"axis":{"orient":"bottom","values":[-2,-1.8,-1.6,-1.4,-1.2,-1,-0.8,-0.6,-0.4,-0.2,0,0.2,0.4,0.6,0.8,1,1.2,1.4,1.6,1.8,2,2.2,2.4,2.6,2.8,3],"labelExpr":"abs(datum.value-round(datum.value))<0.01 ? toString(round(datum.value)) : ''","tickSize":{"condition":{"test":"abs(datum.value-round(datum.value))<0.01","value":-7},"value":-4},"title":null}},
      "y":{"field":"y","type":"quantitative","scale":{"domain":[0,12],"nice":false},"axis":{"orient":"left","values":[0,2.5,5,7.5,10],"labelExpr":"datum.value % 5 === 0 ? toString(datum.value) : ''","tickSize":{"condition":{"test":"datum.value % 5 === 0","value":-7},"value":-4},"title":"PDOS(States/eV)","titleFontSize":24,"titleX":-16,"titleY":62,"titleAngle":-90,"titleBaseline":"bottom","titleAlign":"center"}},
      "color":{"field":"s","type":"nominal","scale":{"domain":["H","C","N","O"],"range":["#000000","#e5261f","#2f9a3b","#3446b0"]},"legend":null}
     }},
    {"data":{"values":[{}]},"mark":{"type":"text","text":"s-orbitals","fontSize":15},"encoding":{"x":{"datum":0.5,"type":"quantitative","axis":null},"y":{"datum":10,"type":"quantitative","axis":null}}}
   ]},
  {"width":326,"height":78,
   "resolve":{"axis":{"x":"independent","y":"independent"}},
   "layer":[
    {"data":{"name":"d3"},"mark":{"type":"line","strokeWidth":2.5,"clip":true},
     "encoding":{
      "x":{"field":"x","type":"quantitative","scale":{"domain":[-2,3],"nice":false,"zero":false},"axis":{"orient":"bottom","values":[-2,-1.8,-1.6,-1.4,-1.2,-1,-0.8,-0.6,-0.4,-0.2,0,0.2,0.4,0.6,0.8,1,1.2,1.4,1.6,1.8,2,2.2,2.4,2.6,2.8,3],"labelExpr":"abs(datum.value-round(datum.value))<0.01 ? toString(round(datum.value)) : ''","tickSize":{"condition":{"test":"abs(datum.value-round(datum.value))<0.01","value":-7},"value":-4},"title":null}},
      "y":{"field":"y","type":"quantitative","scale":{"domain":[0,12],"nice":false},"axis":{"orient":"left","values":[0,2.5,5,7.5,10],"labelExpr":"datum.value % 5 === 0 ? toString(datum.value) : ''","tickSize":{"condition":{"test":"datum.value % 5 === 0","value":-7},"value":-4},"title":null}},
      "color":{"field":"s","type":"nominal","scale":{"domain":["H","C","N","O"],"range":["#000000","#e5261f","#2f9a3b","#3446b0"]},"legend":null}
     }},
    {"data":{"values":[{}]},"mark":{"type":"text","text":"p-orbitals","fontSize":15},"encoding":{"x":{"datum":0.5,"type":"quantitative","axis":null},"y":{"datum":8.6,"type":"quantitative","axis":null}}},
    {"data":{"values":[{}]},"mark":{"type":"text","text":"E-E","fontSize":21,"align":"right","baseline":"middle","dx":-4},"encoding":{"x":{"datum":0.45,"type":"quantitative","axis":null},"y":{"datum":-3.7,"type":"quantitative","axis":null}}},
    {"data":{"values":[{}]},"mark":{"type":"text","text":"F","fontSize":13,"align":"left","baseline":"middle","dx":-3,"dy":6},"encoding":{"x":{"datum":0.45,"type":"quantitative","axis":null},"y":{"datum":-3.7,"type":"quantitative","axis":null}}},
    {"data":{"values":[{}]},"mark":{"type":"text","text":"(eV)","fontSize":21,"align":"left","baseline":"middle","dx":5},"encoding":{"x":{"datum":0.45,"type":"quantitative","axis":null},"y":{"datum":-3.7,"type":"quantitative","axis":null}}},
    {"data":{"values":[{}]},"mark":{"type":"text","text":"(d)","font":"Lato","fontWeight":"normal","fontSize":12,"color":"#333"},"encoding":{"x":{"datum":0.41,"type":"quantitative","axis":null},"y":{"datum":-7.1,"type":"quantitative","axis":null}}}
   ]}
 ]
}
]
}
]
}
]
}
